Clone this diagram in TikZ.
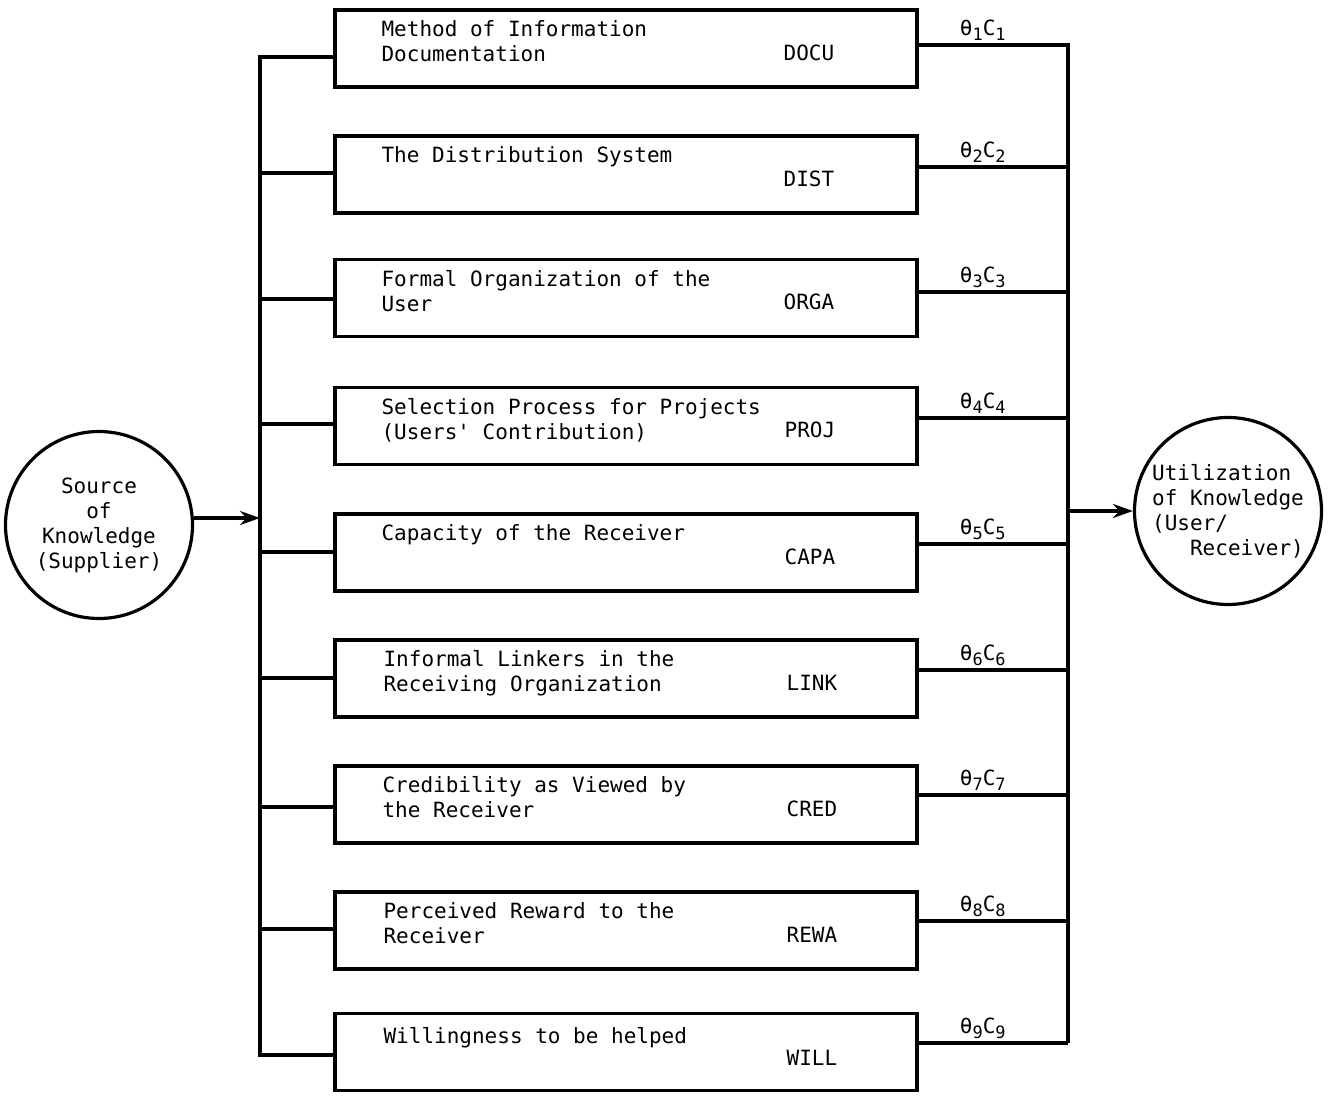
\documentclass[tikz,border=0pt]{standalone}
\usepackage{fontspec}
\setmonofont{DejaVu Sans Mono}
\usetikzlibrary{arrows.meta,shapes}
\newcommand{\wsub}[1]{\raisebox{-0.4ex}{\fontsize{17}{17}\selectfont #1}}
\newcommand{\wgt}[1]{θ\wsub{#1}C\wsub{#1}}
\tikzset{
  blk/.style={draw, rectangle, minimum width=582pt, minimum height=77pt, inner sep=0pt},
  circ/.style={draw, circle, minimum size=187pt, inner sep=0pt, align=center},
  dsc/.style={anchor=north west, inner sep=0pt, align=left},
  code/.style={anchor=base west, inner sep=0pt},
  wlab/.style={above, pos=0.43, inner sep=3pt}
}

\begin{document}
\begin{tikzpicture}[x=1pt,y=-1pt,line width=3.2pt,
                    font=\ttfamily\fontsize{21}{25}\selectfont]
  \useasboundingbox (0,0) rectangle (1330,1095);
  \node[circ] (Src) at (99,525) {Source\\of\\Knowledge\\(Supplier)};
  \node[circ, align=left] (Util) at (1228,511) {Utilization\\of Knowledge\\(User/\\\hphantom{(Us}Receiver)};
  \node[blk] (B1) at (626,48.5) {};
  \node[blk] (B2) at (626,174.5) {};
  \node[blk] (B3) at (626,298) {};
  \node[blk] (B4) at (626,426) {};
  \node[blk] (B5) at (626,552.5) {};
  \node[blk] (B6) at (626,678.5) {};
  \node[blk] (B7) at (626,804.5) {};
  \node[blk] (B8) at (626,930.5) {};
  \node[blk] (B9) at (626,1052) {};
  \node[dsc] (T1) at (380,19) {Method of Information\\Documentation};
  \node[dsc] (T2) at (380,145) {The Distribution System};
  \node[dsc] (T3) at (380,268.5) {Formal Organization of the\\User};
  \node[dsc] (T4) at (380,396.5) {Selection Process for Projects\\(Users' Contribution)};
  \node[dsc] (T5) at (380,523) {Capacity of the Receiver};
  \node[dsc] (T6) at (382,649) {Informal Linkers in the\\Receiving Organization};
  \node[dsc] (T7) at (381,775) {Credibility as Viewed by\\the Receiver};
  \node[dsc] (T8) at (382,901) {Perceived Reward to the\\Receiver};
  \node[dsc] (T9) at (382,1026) {Willingness to be helped};
  \node[code] (K1) at (782,60) {DOCU};
  \node[code] (K2) at (782,186) {DIST};
  \node[code] (K3) at (782,309.5) {ORGA};
  \node[code] (K4) at (783,437.5) {PROJ};
  \node[code] (K5) at (783,564) {CAPA};
  \node[code] (K6) at (785,690) {LINK};
  \node[code] (K7) at (785,816) {CRED};
  \node[code] (K8) at (785,942) {REWA};
  \node[code] (K9) at (785,1065) {WILL};
  % left side
  \coordinate (L1) at (260,57);
  \coordinate (L2) at (260,173);
  \coordinate (L3) at (260,299);
  \coordinate (L4) at (260,424);
  \coordinate (L5) at (260,552);
  \coordinate (L6) at (260,678);
  \coordinate (L7) at (260,807);
  \coordinate (L8) at (260,929);
  \coordinate (L9) at (260,1055);
  \coordinate (LM) at (260,518);
  % right side
  \coordinate (R1) at (1068,45);
  \coordinate (R2) at (1068,167);
  \coordinate (R3) at (1068,292);
  \coordinate (R4) at (1068,418);
  \coordinate (R5) at (1068,544);
  \coordinate (R6) at (1068,670);
  \coordinate (R7) at (1068,795);
  \coordinate (R8) at (1068,921);
  \coordinate (R9) at (1068,1043);
  \coordinate (RM) at (1068,511);
  \draw (L1 -| B1.west) -- (L1) -- (L9) -- (L9 -| B9.west);
  \draw (L2) -- (L2 -| B2.west) (L3) -- (L3 -| B3.west) (L4) -- (L4 -| B4.west)
        (L5) -- (L5 -| B5.west) (L6) -- (L6 -| B6.west) (L7) -- (L7 -| B7.west)
        (L8) -- (L8 -| B8.west);
  \draw (B1.east |- R1) -- node[wlab] {\wgt{1}} (R1) -- (R9);
  \draw (B2.east |- R2) -- node[wlab] {\wgt{2}} (R2);
  \draw (B3.east |- R3) -- node[wlab] {\wgt{3}} (R3);
  \draw (B4.east |- R4) -- node[wlab] {\wgt{4}} (R4);
  \draw (B5.east |- R5) -- node[wlab] {\wgt{5}} (R5);
  \draw (B6.east |- R6) -- node[wlab] {\wgt{6}} (R6);
  \draw (B7.east |- R7) -- node[wlab] {\wgt{7}} (R7);
  \draw (B8.east |- R8) -- node[wlab] {\wgt{8}} (R8);
  \draw (B9.east |- R9) -- node[wlab] {\wgt{9}} (R9);
  \draw[-{Stealth[open,length=20pt,width=14pt]}] (Src.east |- LM) -- (LM);
  \draw[-{Stealth[length=20pt,width=14pt]}] (RM) -- (Util);
\end{tikzpicture}
\end{document}
